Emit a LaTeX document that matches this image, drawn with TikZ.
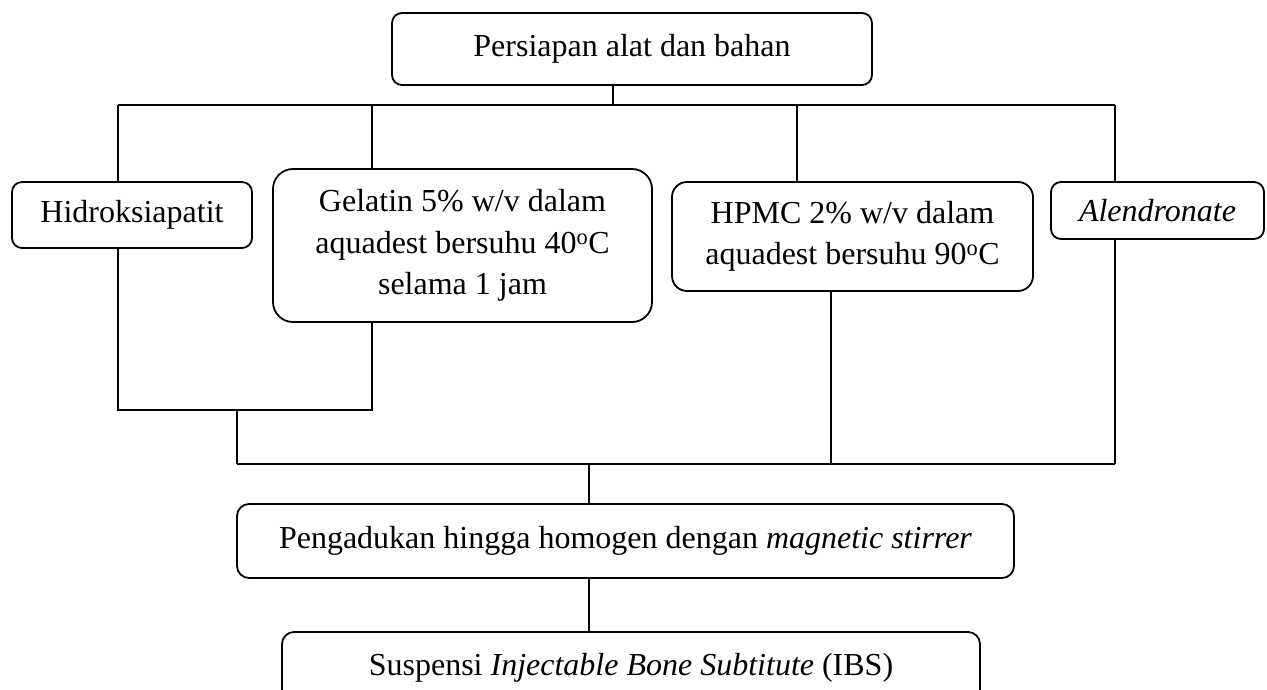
\documentclass[tikz,border=0pt]{standalone}
\usepackage{fontspec}
\setmainfont{Liberation Serif}
\begin{document}
\begin{tikzpicture}[x=1pt,y=-1pt,
  box/.style={draw, line width=1.8pt, rounded corners=#1, align=center, inner sep=0pt,
    font=\fontsize{32}{41.5}\selectfont},
  box/.default=10pt,
  conn/.style={line width=1.5pt}]
\useasboundingbox (0,0) rectangle (1267,690);
\fill[white] (0,0) rectangle (1267,690);
% boxes
\node[box, minimum width=480pt, minimum height=72pt] (top) at (632,49) {Persiapan alat dan bahan};
\node[box, minimum width=240pt, minimum height=66pt] (hidro) at (132,215) {Hidroksiapatit};
\node[box=20pt, minimum width=379pt, minimum height=153pt] (gel) at (462.5,245.5)
  {Gelatin 5\% w/v dalam\\aquadest bersuhu 40\textsuperscript{o}C\\selama 1 jam};
\node[box=15pt, minimum width=361pt, minimum height=109pt] (hpmc) at (852.5,236.5)
  {HPMC 2\% w/v dalam\\aquadest bersuhu 90\textsuperscript{o}C};
\node[box, minimum width=213pt, minimum height=57pt] (alen) at (1157.5,210.5) {\itshape Alendronate};
\node[box=12pt, minimum width=777pt, minimum height=74pt] (peng) at (625.5,541)
  {Pengadukan hingga homogen dengan \textit{magnetic stirrer}};
\begin{scope}
\clip (0,0) rectangle (1267,690);
\node[box=12pt, minimum width=698pt, minimum height=72pt] (susp) at (631,668)
  {Suspensi \textit{Injectable Bone Subtitute} (IBS)};
\end{scope}
% bus coordinates
\coordinate (t0) at (613,105);
\coordinate (b1) at (118,105);
\coordinate (b2) at (372,105);
\coordinate (b3) at (797,105);
\coordinate (b4) at (1115,105);
\coordinate (l1) at (118,410);
\coordinate (l2) at (372,410);
\coordinate (d0) at (237,410);
\coordinate (m1) at (237,464);
\coordinate (m2) at (1115,464);
\coordinate (hx) at (831,464);
\coordinate (c0) at (589,464);
% connectors
\draw[conn] (t0 |- top.south) -- (t0);
\draw[conn] (b1) -- (b4);
\draw[conn] (b1) -- (b1 |- hidro.north);
\draw[conn] (b2) -- (b2 |- gel.north);
\draw[conn] (b3) -- (b3 |- hpmc.north);
\draw[conn] (b4) -- (b4 |- alen.north);
\draw[conn] (l1 |- hidro.south) -- (l1) -- (l2) -- (l2 |- gel.south);
\draw[conn] (d0) -- (m1);
\draw[conn] (m1) -- (m2);
\draw[conn] (hx |- hpmc.south) -- (hx);
\draw[conn] (m2 |- alen.south) -- (m2);
\draw[conn] (c0) -- (c0 |- peng.north);
\draw[conn] (c0 |- peng.south) -- (c0 |- susp.north);
\end{tikzpicture}
\end{document}
